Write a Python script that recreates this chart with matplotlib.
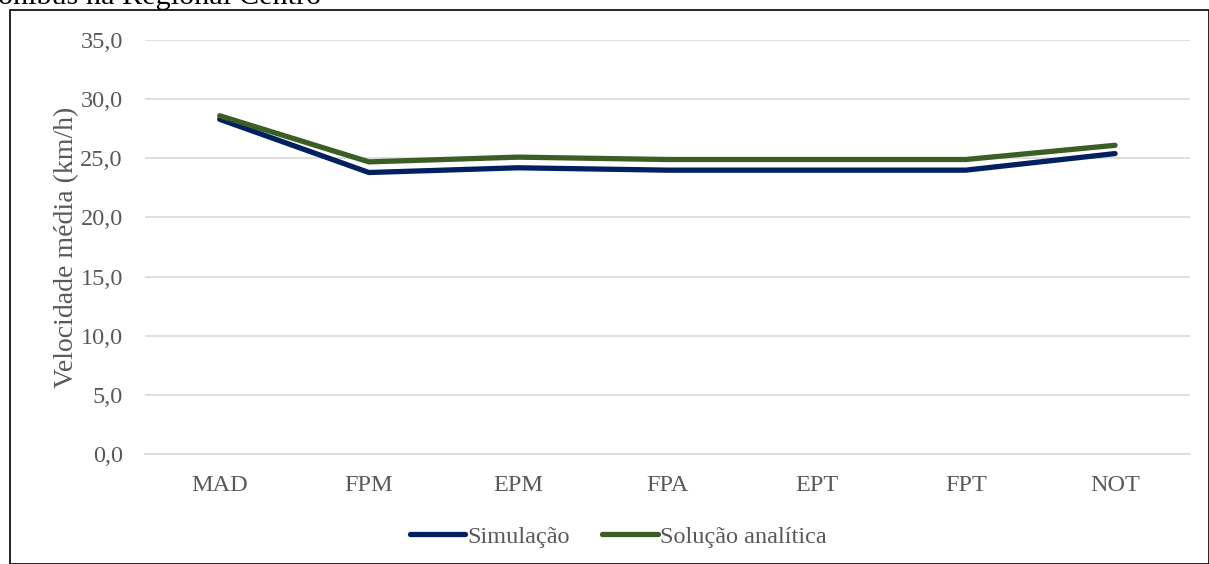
import matplotlib
matplotlib.use("Agg")
import matplotlib.pyplot as plt
from matplotlib.patches import Rectangle

categorias = ["MAD", "FPM", "EPM", "FPA", "EPT", "FPT", "NOT"]
simulacao = [28.3, 23.8, 24.2, 24.0, 24.0, 24.0, 25.4]
analitica = [28.6, 24.7, 25.1, 24.9, 24.9, 24.9, 26.1]

plt.rcParams['font.family'] = ['Liberation Serif', 'DejaVu Serif']

fig = plt.figure(figsize=(12.09, 5.64), dpi=100)
ax = fig.add_axes([0.12, 0.195, 0.864, 0.734])

x = range(len(categorias))
ax.plot(x, simulacao, color='#002060', linewidth=3.8, solid_capstyle='round', label='Simulação')
ax.plot(x, analitica, color='#3B5E24', linewidth=3.8, solid_capstyle='round', label='Solução analítica')

ax.set_xlim(-0.5, len(categorias) - 0.5)
ax.set_ylim(0, 35)
ax.set_yticks([0, 5, 10, 15, 20, 25, 30, 35])
ax.set_yticklabels([f"{v:.1f}".replace('.', ',') for v in [0, 5, 10, 15, 20, 25, 30, 35]])
ax.set_xticks(list(x))
ax.set_xticklabels(categorias)
ax.tick_params(axis='y', length=0, labelsize=17.5, labelcolor='#595959', pad=16)
ax.tick_params(axis='x', length=0, labelsize=17.5, labelcolor='#595959', pad=15)
ax.grid(axis='y', color='#d9d9d9', linewidth=1.2)
ax.set_axisbelow(True)
for s in ['top', 'right', 'left']:
    ax.spines[s].set_visible(False)
ax.spines['bottom'].set_color('#d9d9d9')
ax.spines['bottom'].set_linewidth(1.2)
ax.set_ylabel('Velocidade média (km/h)', fontsize=20, color='#595959', labelpad=1)

ax.legend(loc='center', bbox_to_anchor=(0.453, -0.2), ncol=2, frameon=False,
          fontsize=17.5, labelcolor='#595959', handlelength=2.3, handletextpad=0.1,
          columnspacing=1.3)

# moldura do gráfico
fig.patches.append(Rectangle((10 / 1209, 0.0), 1 - 10 / 1209, 1 - 10 / 564,
                             transform=fig.transFigure, fill=False,
                             edgecolor='black', linewidth=1.2))
fig.text(-2 / 1209, 1 - 4 / 564, 'ônibus na Regional Centro', fontsize=21.8,
         color='black', ha='left', va='baseline')

fig.savefig('out.png', dpi=100)
